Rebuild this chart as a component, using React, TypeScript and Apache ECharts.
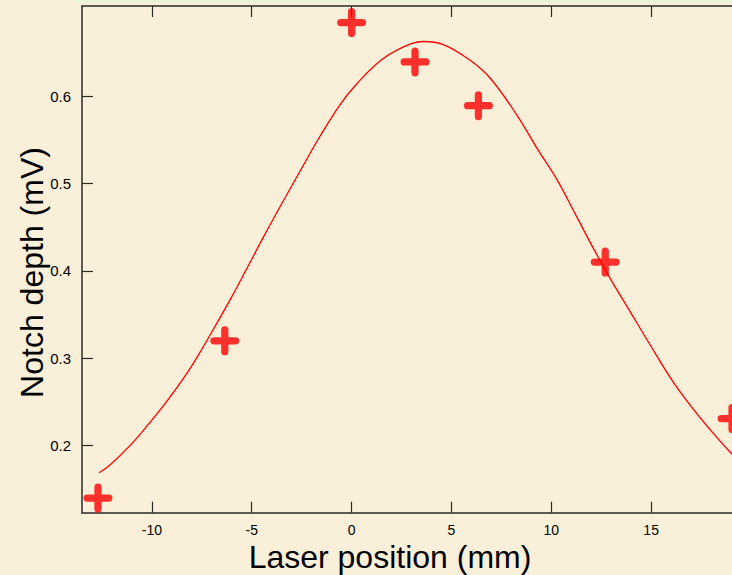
import React, { useEffect, useRef } from "react";
import * as echarts from "echarts";

// Measured points (laser position in mm, notch depth in mV)
const positions = [-12.7, -6.35, 0, 3.175, 6.35, 12.7, 19.05];
const depths = [0.14, 0.32, 0.684, 0.639, 0.589, 0.41, 0.231];

// Fitted curve
const fitX = [-12.65, -12.1, -11.1, -10.19, -9.18, -8.26, -7.6, -6.85, -6.01, -5.34, -4.43, -3.59, -2.59, -1.59, -0.59, 0.25, 1.42, 2.42, 3.59, 4.59, 5.92, 6.93, 8.26, 9.34, 10.27, 11.27, 12.1, 12.93, 13.93, 14.93, 16.1, 17.1, 17.78, 18.94, 19.5];
const fitY = [0.169, 0.178, 0.2, 0.224, 0.253, 0.2825, 0.3065, 0.336, 0.37, 0.3986, 0.438, 0.473, 0.5136, 0.5537, 0.5897, 0.6137, 0.64, 0.6543, 0.6624, 0.6589, 0.6412, 0.6206, 0.5788, 0.5382, 0.505, 0.462, 0.426, 0.392, 0.354, 0.316, 0.273, 0.242, 0.223, 0.193, 0.181];

const xTicks = [-10, -5, 0, 5, 10, 15];
const yTicks = [0.2, 0.3, 0.4, 0.5, 0.6];

const FONT = "'Liberation Sans', Arial, Helvetica, sans-serif";
const AXIS_COLOR = "#2a2a2a";
const BG = "#FAF0D9";
const PLUS =
  "path://M10.5 3.5 A3.5 3.5 0 0 1 17.5 3.5 L17.5 10.5 L24.5 10.5 A3.5 3.5 0 0 1 24.5 17.5 L17.5 17.5 L17.5 24.5 A3.5 3.5 0 0 1 10.5 24.5 L10.5 17.5 L3.5 17.5 A3.5 3.5 0 0 1 3.5 10.5 L10.5 10.5 Z";

export default function App() {
  const ref = useRef<HTMLDivElement>(null);
  useEffect(() => {
    const chart = echarts.init(ref.current!, null, { renderer: "svg" });
    const xMin = -13.5;
    const xMax = 20;
    const yMin = 0.1233;
    const yMax = 0.703;
    const axisCommon = {
      type: "value" as const,
      splitLine: { show: false },
      axisLine: { show: true, onZero: false, lineStyle: { color: AXIS_COLOR, width: 1.5 } },
      axisTick: { show: true, inside: true, length: 11, lineStyle: { color: AXIS_COLOR, width: 1.2 } },
    };
    chart.setOption({
      animation: false,
      backgroundColor: BG,
      textStyle: { fontFamily: FONT },
      grid: { left: 82, top: 6, width: 669, height: 506.7, containLabel: false },
      xAxis: [
        {
          ...axisCommon,
          position: "bottom",
          min: xMin,
          max: xMax,
          axisTick: { ...axisCommon.axisTick, customValues: xTicks },
          axisLabel: {
            customValues: xTicks,
            formatter: (v: number) => String(v),
            fontSize: 14,
            lineHeight: 14,
            color: "#000",
            fontFamily: FONT,
            margin: 10,
          },
        },
        {
          ...axisCommon,
          position: "top",
          min: xMin,
          max: xMax,
          axisTick: { ...axisCommon.axisTick, customValues: xTicks },
          axisLabel: { show: false },
        },
      ],
      yAxis: [
        {
          ...axisCommon,
          position: "left",
          min: yMin,
          max: yMax,
          axisTick: { ...axisCommon.axisTick, customValues: yTicks },
          axisLabel: {
            customValues: yTicks,
            formatter: (v: number) => v.toFixed(1),
            fontSize: 15,
            color: "#000",
            fontFamily: FONT,
            margin: 11,
          },
        },
      ],
      graphic: [
        {
          type: "rect",
          z: -1,
          shape: { x: 75, y: 0, width: 700, height: 2 },
          style: { fill: "#E4F6D4" },
        },
        {
          type: "text",
          x: 390,
          y: 556.5,
          style: {
            text: "Laser position (mm)",
            fontSize: 32,
            lineHeight: 26,
            fontFamily: FONT,
            fill: "#000",
            align: "center",
            verticalAlign: "middle",
            textAlign: "center",
            textVerticalAlign: "middle",
          },
        },
        {
          type: "text",
          x: 32,
          y: 272.5,
          rotation: Math.PI / 2,
          style: {
            text: "Notch depth (mV)",
            fontSize: 32,
            lineHeight: 26,
            fontFamily: FONT,
            fill: "#000",
            align: "center",
            verticalAlign: "middle",
            textAlign: "center",
            textVerticalAlign: "middle",
          },
        },
      ],
      series: [
        {
          type: "line",
          data: fitX.map((x, i) => [x, fitY[i]]),
          showSymbol: false,
          smooth: 0.4,
          lineStyle: { color: "#FF0000", width: 1.3 },
          z: 2,
        },
        {
          type: "scatter",
          data: positions.map((x, i) => [x, depths[i]]),
          symbol: PLUS,
          symbolSize: 29,
          itemStyle: { color: "#FF0000" },
          z: 3,
        },
      ],
    });
    return () => chart.dispose();
  }, []);
  return (
    <div
      style={{
        position: "fixed",
        left: 0,
        top: 0,
        width: 732,
        height: 575,
        overflow: "hidden",
        background: BG,
      }}
    >
      <div ref={ref} style={{ width: 760, height: 575 }} />
    </div>
  );
}
